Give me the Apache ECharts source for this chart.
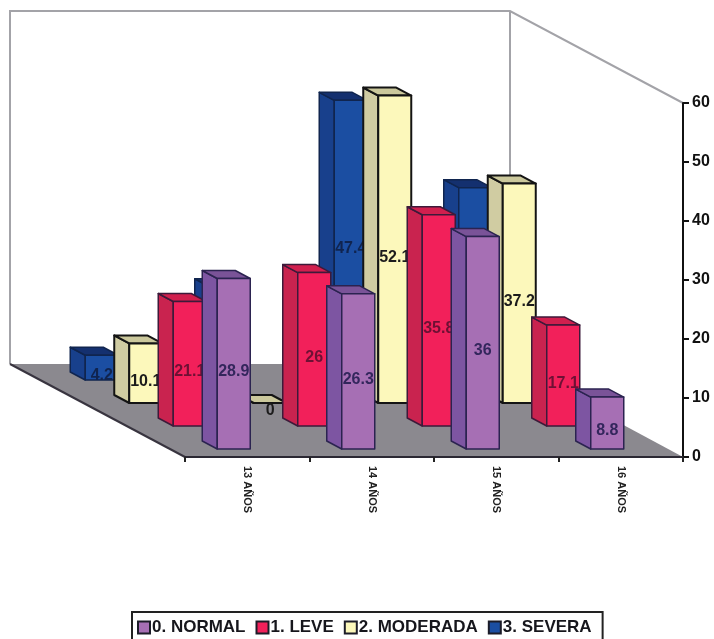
<!DOCTYPE html>
<html>
<head>
<meta charset="utf-8">
<style>
  html, body { margin: 0; padding: 0; background: #fff; }
  #chart { width: 714px; height: 639px; }
</style>
</head>
<body>
<div id="chart"></div>
<script src="https://cdn.jsdelivr.net/npm/echarts@6/dist/echarts.min.js"></script>
<script>
const categories = ['13 AÑOS', '14 AÑOS', '15 AÑOS', '16 AÑOS']
const normal = [28.9, 26.3, 36, 8.8]
const leve = [21.1, 26, 35.8, 17.1]
const moderada = [10.1, 0, 52.1, 37.2]
const severa = [4.2, 15.8, 47.4, 32.6]
const seriesNames = ['0. NORMAL', '1. LEVE', '2. MODERADA', '3. SEVERA']
const tickMax = 60
const tickStep = 10

// fake 3d: one row of depth shifts everything back and to the left
const ROW_X = 44
const ROW_Y = 23
const BAR_W = 33
const BAR_DX = 15
const BAR_DY = 8
const FLOOR_DX = 175
const FLOOR_DY = 93

const looks = [
  { front: '#a66fb4', side: '#7d55a2', top: '#7a5398', edge: '#2b2350', label: '#33265c', width: 1.5 },
  { front: '#f2205a', side: '#c9234f', top: '#d11f4e', edge: '#3d1a3a', label: '#6e1034', width: 1.5 },
  { front: '#fcf8bb', side: '#d0cca2', top: '#cbc89c', edge: '#141414', label: '#1c1c1c', width: 2 },
  { front: '#1b4ea2', side: '#18408c', top: '#14306f', edge: '#10254f', label: '#10244f', width: 1.5 }
]

const face = (points, fill, edge, lineWidth) => ({
  type: 'polygon',
  shape: { points },
  style: { fill, stroke: edge, lineWidth, lineJoin: 'round' }
})

const barRenderer = row => (params, api) => {
  const look = looks[row]
  const base = api.coord([api.value(0), 0])
  const head = api.coord([api.value(0), api.value(1)])
  const left = base[0] - 30 - ROW_X * row
  const bottom = base[1] - 8 - ROW_Y * row
  const top = bottom - (base[1] - head[1])
  const right = left + BAR_W
  return {
    type: 'group',
    children: [
      face([[left, bottom], [left, top], [left - BAR_DX, top - BAR_DY], [left - BAR_DX, bottom - BAR_DY]], look.side, look.edge, look.width),
      face([[left, top], [right, top], [right - BAR_DX, top - BAR_DY], [left - BAR_DX, top - BAR_DY]], look.top, look.edge, look.width),
      face([[left, bottom], [right, bottom], [right, top], [left, top]], look.front, look.edge, look.width),
      {
        type: 'text',
        style: {
          text: String(api.value(1)),
          x: left + BAR_W / 2,
          y: (top + bottom) / 2,
          textAlign: 'center',
          textBaseline: 'middle',
          fill: look.label,
          font: 'bold 16px "Liberation Sans", Arial, sans-serif'
        }
      }
    ]
  }
}

// floor and the two thin walls behind the bars
const roomRenderer = (params, api) => {
  const origin = api.coord([0, 0])
  const band = api.size([1, 0])[0]
  const ceiling = api.coord([0, tickMax])[1]
  const x0 = origin[0] - band / 2
  const x1 = x0 + band * categories.length
  const y0 = origin[1]
  const wallStyle = { stroke: '#a3a3a8', lineWidth: 2, fill: null }
  return {
    type: 'group',
    children: [
      {
        type: 'polygon',
        shape: { points: [[x0, y0], [x1, y0], [x1 - FLOOR_DX + 2, y0 - FLOOR_DY], [x0 - FLOOR_DX, y0 - FLOOR_DY]] },
        style: { fill: '#8b898f' }
      },
      {
        type: 'polyline',
        shape: { points: [[x0 - FLOOR_DX, y0 - FLOOR_DY], [x0 - FLOOR_DX, ceiling - FLOOR_DY + 1], [x1 - FLOOR_DX + 2, ceiling - FLOOR_DY + 1], [x1, ceiling]] },
        style: wallStyle
      },
      {
        type: 'line',
        shape: { x1: x1 - FLOOR_DX + 2, y1: ceiling - FLOOR_DY + 1, x2: x1 - FLOOR_DX + 2, y2: y0 - FLOOR_DY },
        style: wallStyle
      },
      {
        type: 'line',
        shape: { x1: x0 - FLOOR_DX, y1: y0 - FLOOR_DY, x2: x0, y2: y0 },
        style: { stroke: '#38343f', lineWidth: 2 }
      }
    ]
  }
}

const rows = [normal, leve, moderada, severa]
const barSeries = rows.map((values, row) => ({
  name: seriesNames[row],
  type: 'custom',
  z: 6 - row,
  encode: { x: 0, y: 1 },
  data: values.map((v, i) => [i, v]),
  renderItem: barRenderer(row)
})).reverse()

const chart = echarts.init(document.getElementById('chart'))
chart.setOption({
  animation: false,
  backgroundColor: '#fff',
  textStyle: { fontFamily: '"Liberation Sans", Arial, sans-serif' },
  grid: { left: 185, right: 31, top: 103, bottom: 182 },
  legend: {
    left: 132,
    top: 612,
    padding: [7, 11, 12, 5],
    itemGap: 10,
    itemWidth: 12,
    itemHeight: 12,
    borderColor: '#222',
    borderWidth: 2,
    borderRadius: 0,
    selectedMode: false,
    textStyle: { color: '#16161c', fontSize: 17, fontWeight: 'bold', padding: [0, 0, 0, -3] },
    data: seriesNames.map((name, row) => ({
      name,
      icon: 'rect',
      itemStyle: { color: looks[row].front, borderColor: '#1c1c28', borderWidth: 2 }
    }))
  },
  xAxis: {
    type: 'category',
    data: categories,
    z: 3,
    axisLine: { lineStyle: { color: '#2b2833', width: 2 } },
    axisTick: { show: true, length: 5, lineStyle: { color: '#222', width: 2 } },
    axisLabel: { interval: 0, rotate: -90, margin: 9, color: '#222', fontSize: 11, fontWeight: 'bold' }
  },
  yAxis: {
    type: 'value',
    position: 'right',
    min: 0,
    max: tickMax,
    interval: tickStep,
    z: 3,
    splitLine: { show: false },
    axisLine: { show: true, lineStyle: { color: '#111', width: 2 } },
    axisTick: { show: true, length: 6, lineStyle: { color: '#111', width: 2 } },
    axisLabel: { margin: 9, color: '#111', fontSize: 16, fontWeight: 'bold' }
  },
  series: [
    { type: 'custom', name: 'room', silent: true, z: 1, data: [[0, 0]], encode: { x: 0, y: 1 }, renderItem: roomRenderer },
    ...barSeries
  ]
})
</script>
</body>
</html>
